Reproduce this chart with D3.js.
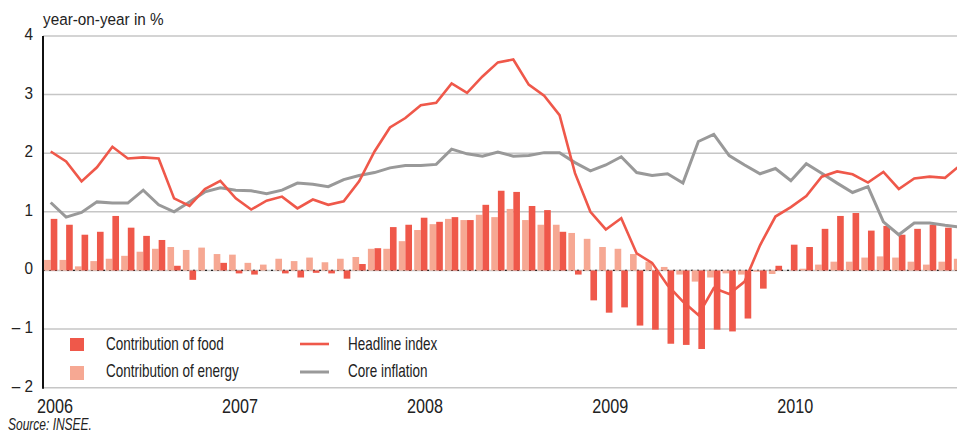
<!DOCTYPE html>
<html>
<head>
<meta charset="utf-8">
<script src="https://cdn.jsdelivr.net/npm/d3@7"></script>
<style>
  body { margin: 0; background: #fff; }
  svg text { font-family: "Liberation Sans", Arial, sans-serif; fill: #222; }
</style>
</head>
<body>
<div class="chart"></div>
<script>
// monthly data, Jan 2006 - Dec 2010
var years = ['2006', '2007', '2008', '2009', '2010'];
var yTicks = [4, 3, 2, 1, 0, -1, -2];

var headline = [2.03, 1.86, 1.52, 1.76, 2.11, 1.91, 1.93, 1.91, 1.23, 1.10, 1.39, 1.53,
  1.23, 1.04, 1.19, 1.26, 1.06, 1.21, 1.12, 1.18, 1.52, 2.03, 2.44, 2.60,
  2.82, 2.86, 3.19, 3.03, 3.31, 3.55, 3.60, 3.17, 2.98, 2.65, 1.66, 1.00,
  0.70, 0.89, 0.29, 0.13, -0.25, -0.53, -0.76, -0.30, -0.40, -0.19, 0.43, 0.92,
  1.08, 1.27, 1.60, 1.69, 1.64, 1.50, 1.68, 1.39, 1.57, 1.60, 1.58, 1.80];

var core = [1.16, 0.91, 0.99, 1.17, 1.15, 1.15, 1.37, 1.12, 1.00, 1.17, 1.34, 1.41,
  1.37, 1.36, 1.31, 1.37, 1.49, 1.47, 1.43, 1.55, 1.62, 1.67, 1.75, 1.79,
  1.79, 1.81, 2.07, 1.99, 1.95, 2.02, 1.95, 1.96, 2.01, 2.01, 1.84, 1.70,
  1.80, 1.94, 1.67, 1.62, 1.65, 1.49, 2.20, 2.32, 1.96, 1.80, 1.65, 1.74,
  1.53, 1.82, 1.66, 1.49, 1.33, 1.43, 0.83, 0.61, 0.81, 0.81, 0.77, 0.74];

var food = [0.88, 0.78, 0.61, 0.66, 0.93, 0.73, 0.59, 0.52, 0.08, -0.16, 0.00, 0.13,
  -0.05, -0.07, 0.00, -0.05, -0.12, -0.04, -0.05, -0.14, 0.11, 0.38, 0.74, 0.78,
  0.90, 0.83, 0.91, 0.86, 1.12, 1.36, 1.34, 1.10, 1.03, 0.66, -0.07, -0.51,
  -0.72, -0.63, -0.94, -1.01, -1.25, -1.27, -1.34, -1.01, -1.04, -0.82, -0.31, 0.08,
  0.44, 0.40, 0.71, 0.93, 0.98, 0.68, 0.76, 0.61, 0.71, 0.78, 0.73, 0.75];

var energy = [0.18, 0.18, 0.07, 0.16, 0.20, 0.25, 0.32, 0.37, 0.40, 0.35, 0.39, 0.28,
  0.27, 0.13, 0.10, 0.20, 0.16, 0.22, 0.14, 0.20, 0.23, 0.37, 0.37, 0.50,
  0.69, 0.79, 0.88, 0.86, 0.95, 0.91, 1.05, 0.86, 0.78, 0.78, 0.64, 0.54,
  0.40, 0.37, 0.28, 0.15, 0.06, -0.07, -0.19, -0.12, -0.05, -0.07, -0.02, -0.06,
  0.00, 0.03, 0.10, 0.15, 0.15, 0.22, 0.24, 0.22, 0.15, 0.10, 0.15, 0.20];

var seriesNames = ['Contribution of food', 'Contribution of energy', 'Headline index', 'Core inflation'];

var colFood = '#ef584a', colEnergy = '#f6a893', colHead = '#ef584a', colCore = '#999999';

var W = 957, H = 434;
var left = 43, monthW = 15.42;

var svg = d3.select('.chart').append('svg').attr('width', W).attr('height', H);

var x = d3.scaleLinear().domain([0, 60]).range([left, left + 60 * monthW]);
var y = d3.scaleLinear().domain([-2, 4]).range([387.7, 36]);
var barW = 0.43; // in months

// condensed look: squeeze the text horizontally
function label(g, tx, ty, str, size, sx) {
  return g.append('text')
    .attr('transform', 'translate(' + tx + ',' + ty + ') scale(' + sx + ',1)')
    .style('font-size', size + 'px')
    .text(str);
}

// gridlines
svg.selectAll('line.grid').data(yTicks).enter()
  .append('line')
  .attr('x1', left).attr('x2', W)
  .attr('y1', function(d) { return y(d); })
  .attr('y2', function(d) { return y(d); })
  .style('stroke', '#c6c6c6')
  .style('stroke-width', 1.5);

svg.append('line')
  .attr('x1', left).attr('x2', W)
  .attr('y1', y(0)).attr('y2', y(0))
  .style('stroke', '#222')
  .style('stroke-width', 1.2)
  .style('stroke-dasharray', '2,4');

// bars
svg.selectAll('rect.energy').data(energy).enter()
  .append('rect')
  .attr('x', function(d, i) { return x(i + 0.5 - barW); })
  .attr('width', x(barW) - x(0))
  .attr('y', function(d) { return y(Math.max(0, d)); })
  .attr('height', function(d) { return Math.abs(y(d) - y(0)); })
  .style('fill', colEnergy);

svg.selectAll('rect.food').data(food).enter()
  .append('rect')
  .attr('x', function(d, i) { return x(i + 0.5); })
  .attr('width', x(barW) - x(0))
  .attr('y', function(d) { return y(Math.max(0, d)); })
  .attr('height', function(d) { return Math.abs(y(d) - y(0)); })
  .style('fill', colFood);

// lines
var line = d3.line()
  .x(function(d, i) { return x(i + 0.5); })
  .y(function(d) { return y(d); });

svg.append('path').datum(core)
  .attr('d', line)
  .style('fill', 'none')
  .style('stroke', colCore)
  .style('stroke-width', 3);

svg.append('path').datum(headline)
  .attr('d', line)
  .style('fill', 'none')
  .style('stroke', colHead)
  .style('stroke-width', 2.6);

// y axis
svg.append('line')
  .attr('x1', left).attr('x2', left)
  .attr('y1', y(4)).attr('y2', y(-2) + 1)
  .style('stroke', '#111')
  .style('stroke-width', 2);

yTicks.forEach(function(d) {
  label(svg, 33, y(d) + 4, d < 0 ? '\u2013 ' + (-d) : d, 17, 0.9).attr('text-anchor', 'end');
});

years.forEach(function(d, i) {
  label(svg, x(i * 12 + 0.78), 413, d, 21, 0.77).attr('text-anchor', 'middle');
});

label(svg, 43, 25, 'year-on-year in %', 17, 0.9);
label(svg, 8, 430, 'Source: INSEE.', 16, 0.75).style('font-style', 'italic');

// legend
var leg = svg.append('g');
leg.append('rect').attr('x', 70).attr('y', 338).attr('width', 14).attr('height', 13).style('fill', colFood);
leg.append('rect').attr('x', 70).attr('y', 366).attr('width', 14).attr('height', 14).style('fill', colEnergy);
leg.append('line').attr('x1', 300).attr('x2', 329).attr('y1', 344).attr('y2', 344).style('stroke', colHead).style('stroke-width', 2.6);
leg.append('line').attr('x1', 300).attr('x2', 329).attr('y1', 372).attr('y2', 372).style('stroke', colCore).style('stroke-width', 3);

var legPos = [[106, 350], [106, 377], [348, 350], [348, 377]];
seriesNames.forEach(function(d, i) {
  label(leg, legPos[i][0], legPos[i][1], d, 18, 0.75);
});
</script>
</body>
</html>
